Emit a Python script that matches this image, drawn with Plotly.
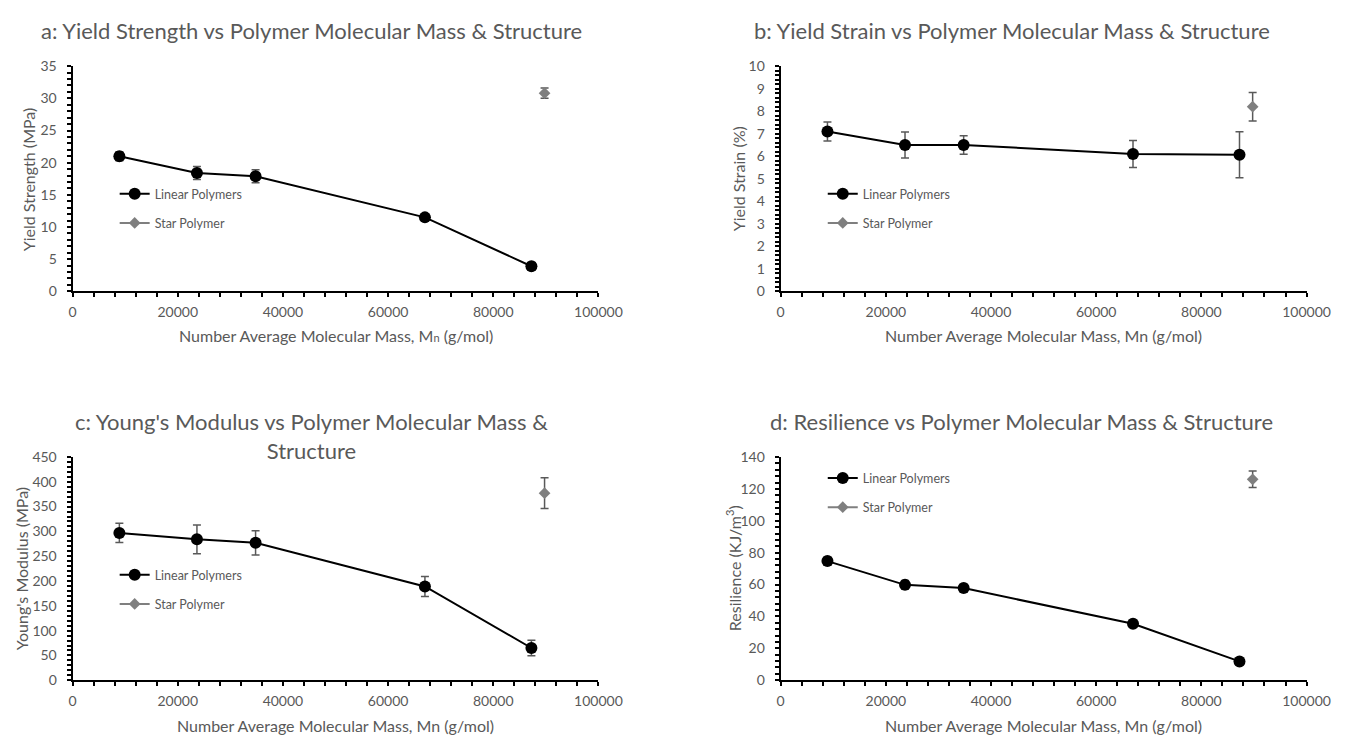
import plotly.graph_objects as go

# ---------------- data ----------------
mn_linear = [8900, 23650, 34800, 67000, 87250]
mn_star = [89750]

yield_strength_linear = [21.0, 18.4, 17.9, 11.5, 3.9]
yield_strength_linear_err = [0.7, 1.0, 1.0, 0.45, 0.6]
yield_strength_star = [30.8]
yield_strength_star_err = [0.8]

yield_strain_linear = [7.1, 6.5, 6.5, 6.1, 6.07]
yield_strain_linear_err = [0.42, 0.58, 0.41, 0.6, 1.02]
yield_strain_star = [8.2]
yield_strain_star_err = [0.63]

modulus_linear = [297, 284, 277, 189, 65]
modulus_linear_err = [19.6, 29, 24.5, 20, 15.7]
modulus_star = [377]
modulus_star_err = [31]

resilience_linear = [74.7, 59.8, 57.8, 35.4, 11.8]
resilience_linear_err = [2.4, 2.7, 2.2, 2.0, 1.5]
resilience_star = [126]
resilience_star_err = [5.2]

titles = [
    "a: Yield Strength vs Polymer Molecular Mass & Structure",
    "b: Yield Strain vs Polymer Molecular Mass & Structure",
    "c: Young's Modulus vs Polymer Molecular Mass &<br>Structure",
    "d: Resilience vs Polymer Molecular Mass & Structure",
]
y_titles = ["Yield Strength (MPa)", "Yield Strain (%)", "Young's Modulus (MPa)",
            "Resilience (KJ/m<sup>3</sup>)"]
x_titles = ["Number Average Molecular Mass, M<span style='font-size:11px'>n</span> (g/mol)",
            "Number Average Molecular Mass, Mn (g/mol)",
            "Number Average Molecular Mass, Mn (g/mol)",
            "Number Average Molecular Mass, Mn (g/mol)"]
y_ranges = [(35, 5), (10, 1), (450, 50), (140, 20)]

W, H = 1357, 741
FONT = "Lato, 'Open Sans', sans-serif"
TXT = "#595959"

# plot-area pixel boxes (left, right, top, bottom)
boxes = [(70, 607, 58.5, 289), (793, 1330, 58.5, 289),
         (70, 607, 458.5, 687), (793, 1330, 458.5, 687)]

series = [
    (yield_strength_linear, yield_strength_linear_err, yield_strength_star, yield_strength_star_err),
    (yield_strain_linear, yield_strain_linear_err, yield_strain_star, yield_strain_star_err),
    (modulus_linear, modulus_linear_err, modulus_star, modulus_star_err),
    (resilience_linear, resilience_linear_err, resilience_star, resilience_star_err),
]

fig = go.Figure()
layout = dict(
    width=W, height=H, margin=dict(l=0, r=0, t=0, b=0),
    paper_bgcolor="white", plot_bgcolor="white",
    font=dict(family=FONT, color=TXT, size=13),
    showlegend=True,
)
annotations = []

legend_pos = [(113, 174), (836, 174), (113, 564), (836, 465)]
title_pos = [(314, 22), (1029, 22), (314, 437), (1039, 422)]
ytitle_x = [25, 750, 18, 745]
xtitle_y = [334, 733]

for i in range(4):
    ax = "" if i == 0 else str(i + 1)
    xa, ya = "x" + ax, "y" + ax
    lg = "legend" if i == 0 else "legend" + str(i + 1)
    lin, lin_e, st, st_e = series[i]
    fig.add_trace(go.Scatter(
        x=mn_linear, y=lin, mode="lines+markers", name="Linear Polymers",
        line=dict(color="black", width=2),
        marker=dict(symbol="circle", size=12, color="black"),
        error_y=dict(type="data", array=lin_e, visible=True, color="#595959", thickness=1.5, width=4),
        xaxis=xa, yaxis=ya, legend=lg, legendgroup=f"lin{i}",
    ))
    fig.add_trace(go.Scatter(
        x=mn_star, y=st, mode="lines+markers", name="Star Polymer",
        line=dict(color="#7f7f7f", width=2),
        marker=dict(symbol="diamond", size=9, color="#7f7f7f"),
        error_y=dict(type="data", array=st_e, visible=True, color="#595959", thickness=1.5, width=4),
        xaxis=xa, yaxis=ya, legend=lg, legendgroup=f"star{i}",
    ))
    l, r, t, b = boxes[i]
    xd = [l / W, r / W]
    yd = [1 - b / H, 1 - t / H]
    ymax, ydt = y_ranges[i]
    layout["xaxis" + ax] = dict(
        domain=xd, range=[0, 100000], dtick=20000, tick0=0, tickformat="d",
        showgrid=False, zeroline=False, showline=True, linecolor="black", linewidth=2,
        ticks="outside", ticklen=4, tickwidth=1.5, tickcolor="black",
        minor=dict(dtick=4000, tick0=0, ticks="outside", ticklen=4, tickwidth=1.5, tickcolor="black"),
        tickfont=dict(size=14, color=TXT), ticklabelstandoff=3,
        anchor=ya, fixedrange=True,
    )
    layout["yaxis" + ax] = dict(
        domain=yd, range=[0, ymax], dtick=ydt, tick0=0,
        showgrid=False, zeroline=False, showline=True, linecolor="black", linewidth=2,
        ticks="outside", ticklen=4, tickwidth=1.5, tickcolor="black",
        minor=dict(dtick=ydt / 5, tick0=0, ticks="outside", ticklen=4, tickwidth=1.5, tickcolor="black"),
        tickfont=dict(size=14, color=TXT), ticklabelstandoff=7,
        anchor=xa, fixedrange=True,
    )
    lx, ly = legend_pos[i]
    layout[lg] = dict(
        x=lx / W, y=1 - ly / H, xanchor="left", yanchor="top",
        bgcolor="rgba(0,0,0,0)", font=dict(size=12.5, color=TXT, family=FONT),
        tracegroupgap=10, itemwidth=30,
    )
    tx, ty = title_pos[i]
    annotations.append(dict(
        text=titles[i], x=tx / W, y=1 - ty / H, xref="paper", yref="paper",
        xanchor="center", yanchor="middle", showarrow=False,
        font=dict(size=22, color=TXT, family=FONT),
    ))
    annotations.append(dict(
        text=y_titles[i], x=ytitle_x[i] / W, y=1 - ((t + b) / 2) / H, xref="paper", yref="paper",
        xanchor="center", yanchor="middle", showarrow=False, textangle=-90,
        font=dict(size=16, color=TXT, family=FONT),
    ))
    annotations.append(dict(
        text=x_titles[i], x=((l + r) / 2) / W, y=1 - xtitle_y[i // 2] / H, xref="paper", yref="paper",
        xanchor="center", yanchor="middle", showarrow=False,
        font=dict(size=16, color=TXT, family=FONT),
    ))

layout["annotations"] = annotations
fig.update_layout(**layout)
fig.write_html("out.html")
